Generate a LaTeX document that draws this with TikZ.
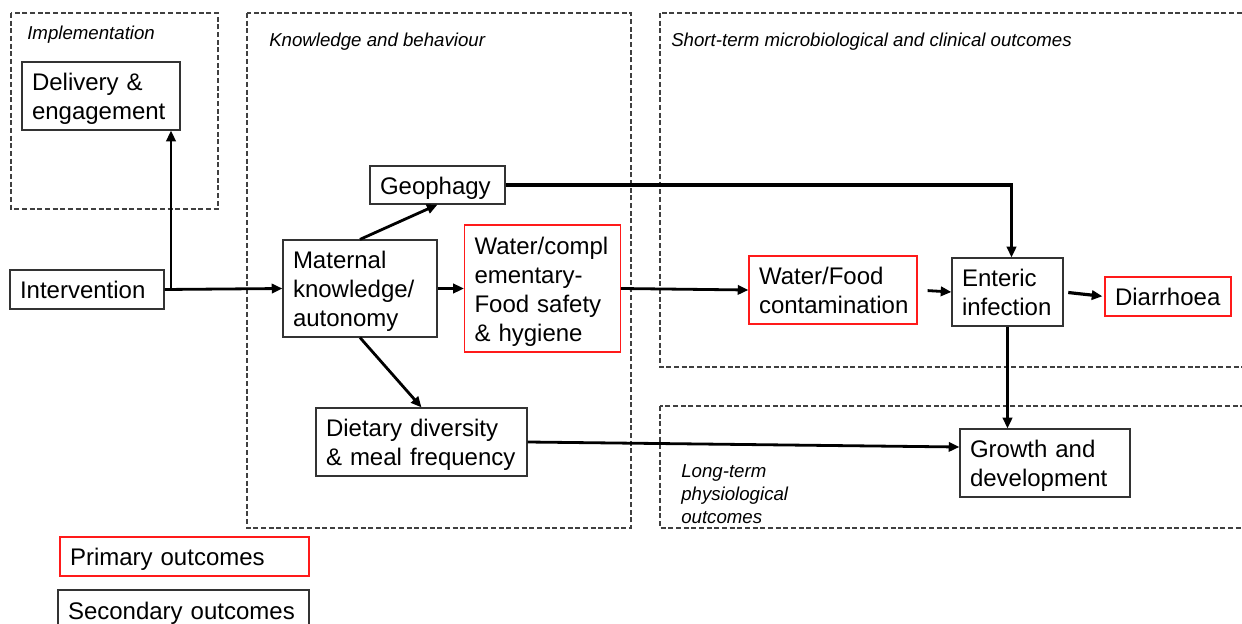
\documentclass[tikz,border=0pt]{standalone}
\usepackage{fontspec}
\setmainfont{Liberation Sans}
\usetikzlibrary{arrows.meta,calc}
\definecolor{bordergrey}{HTML}{333333}
\definecolor{dashgrey}{HTML}{404040}
\definecolor{outred}{HTML}{FF1A1A}
\newcommand{\mltext}[1]{\raisebox{-2.6pt}[\height][\depth]{\begin{tabular}{@{}l@{}}#1\end{tabular}}}
\tikzset{
  bx/.style={draw=bordergrey, line width=0.9pt, align=left, inner xsep=7.5pt, inner ysep=0pt,
    font=\fontsize{18}{21.75}\selectfont, anchor=center},
  redbx/.style={bx, draw=outred},
  grp/.style={draw=dashgrey, line width=0.8pt, dash pattern=on 3.75pt off 2pt},
  grplabel/.style={font=\itshape\fontsize{14}{17.25}\selectfont, inner sep=0pt, align=left},
  arr/.style={line width=2.1pt, -{Triangle[length=8pt,width=7pt]}},
}
\begin{document}
\begin{tikzpicture}[x=0.75pt,y=-0.75pt]
\useasboundingbox (0,0) rectangle (1242,624);
\clip (0,0) rectangle (1242,624);
% group boxes
\draw[grp] (11,13) rectangle (218,209);
\draw[grp] (247,13) rectangle (631,528);
\draw[grp] (660,13) rectangle (1260,367);
\draw[grp] (660,406) rectangle (1260,528);
\node[grplabel, anchor=west] (limp) at (27,34.5) {Implementation};
\node[grplabel, anchor=west] (lkb) at (269,41.5) {Knowledge and behaviour};
\node[grplabel, anchor=west] (lst) at (671,41.5) {Short-term microbiological and clinical outcomes};
\node[grplabel, anchor=north west] (llt) at (681,464) {Long-term\\physiological\\outcomes};
% nodes
\node[bx, minimum width=118.5pt, minimum height=51pt, text width=103.5pt] (del) at (101,96) {\mltext{Delivery \&\\engagement}};
\node[bx, minimum width=115.5pt, minimum height=29.25pt, text width=100.5pt] (int) at (87,289.5) {\mltext{Intervention}};
\node[bx, minimum width=101.25pt, minimum height=28.5pt, text width=86.25pt] (geo) at (437.5,185) {\mltext{Geophagy}};
\node[bx, minimum width=115.5pt, minimum height=72.75pt, text width=100.5pt] (mat) at (360,288.5) {\mltext{Maternal\\knowledge/\\autonomy}};
\node[redbx, minimum width=116.25pt, minimum height=95.25pt, text width=102pt] (wc) at (542.5,288.5) {\mltext{Water/compl\\ementary-\\Food safety\\\& hygiene}};
\node[redbx, minimum width=126pt, minimum height=51pt, text width=111pt] (wf) at (833,290) {\mltext{Water/Food\\contamination}};
\node[bx, minimum width=83.25pt, minimum height=51pt, text width=68.25pt] (ent) at (1007.5,292) {\mltext{Enteric\\infection}};
\node[redbx, minimum width=94.5pt, minimum height=29.25pt, text width=79.5pt] (dia) at (1168,296.5) {\mltext{Diarrhoea}};
\node[bx, minimum width=158.25pt, minimum height=51pt, text width=143.25pt] (die) at (421.5,442) {\mltext{Dietary diversity\\\& meal frequency}};
\node[bx, minimum width=127.5pt, minimum height=51pt, text width=112.5pt] (gro) at (1045,463) {\mltext{Growth and\\development}};
\node[redbx, minimum width=186.75pt, minimum height=29.25pt, text width=171.75pt] (pri) at (184.5,556.5) {\mltext{Primary outcomes}};
\node[bx, minimum width=188.25pt, minimum height=30pt, text width=173.25pt] (sec) at (183.5,610) {\mltext{Secondary outcomes}};
% connectors
\coordinate (j) at (171,290);
\draw[arr] (int.east) -- (mat.west);
\draw[arr] (j) -- (j |- del.south);
\draw[arr] (mat.north) -- (geo.south);
\draw[arr] (mat.east) -- (wc.west);
\draw[arr] (mat.south) -- (die.north);
\draw[line width=2.7pt, -{Triangle[length=8pt,width=7pt]}] (geo.east) -- ([xshift=3pt]ent.north |- geo.east) -- ([xshift=3pt]ent.north);
\draw[arr] (wc.east) -- (wf.west);
\draw[arr, shorten <=7.5pt] (wf.east) -- (ent.west);
\draw[arr, line width=2.4pt, shorten <=3.5pt, shorten >=1.5pt] (ent.east) -- (dia.west);
\draw[arr] (ent.south) -- (ent.south |- gro.north);
\draw[arr] (die.east) -- ([yshift=12pt]gro.west);
\end{tikzpicture}
\end{document}
